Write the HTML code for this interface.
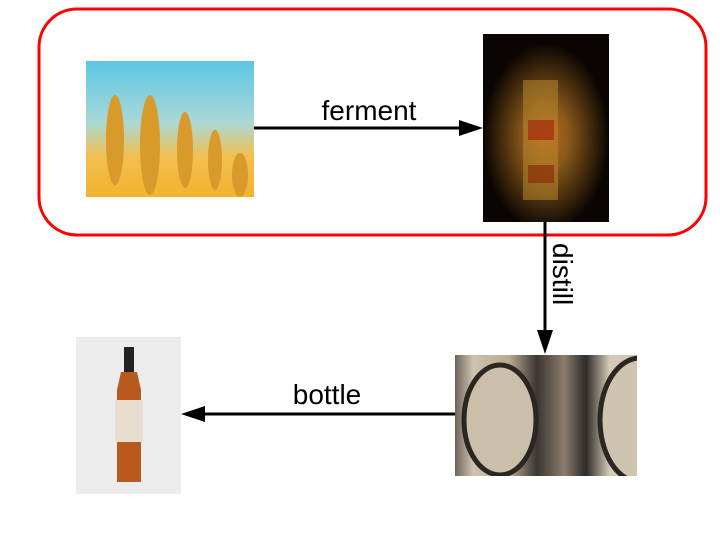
<!DOCTYPE html>
<html><head><meta charset="utf-8"><style>
html,body{margin:0;padding:0;background:#fff;width:720px;height:540px;overflow:hidden}
</style></head><body>
<svg width="720" height="540" viewBox="0 0 720 540" xmlns="http://www.w3.org/2000/svg" font-family="Liberation Sans, sans-serif">
<defs>
<linearGradient id="sky" x1="0" y1="0" x2="0" y2="1"><stop offset="0" stop-color="#5cc6e6"/><stop offset="0.45" stop-color="#a9d8d6"/><stop offset="0.7" stop-color="#f1c050"/><stop offset="1" stop-color="#f3b22e"/></linearGradient>
<radialGradient id="beer" cx="0.5" cy="0.55" r="0.5"><stop offset="0" stop-color="#c2651a"/><stop offset="0.35" stop-color="#8a5a1a"/><stop offset="1" stop-color="#0a0502"/></radialGradient>
<linearGradient id="barrel" x1="0" y1="0" x2="1" y2="0"><stop offset="0" stop-color="#6d645a"/><stop offset="0.1" stop-color="#cfc3b0"/><stop offset="0.3" stop-color="#b8a98f"/><stop offset="0.45" stop-color="#3b3532"/><stop offset="0.6" stop-color="#8b7d6e"/><stop offset="0.72" stop-color="#2d2a28"/><stop offset="0.85" stop-color="#d5cbb8"/><stop offset="1" stop-color="#cfc5b3"/></linearGradient>
<clipPath id="bc"><rect x="455" y="355" width="182" height="121"/></clipPath>
</defs>
<rect x="39" y="9" width="667" height="226" rx="38" fill="none" stroke="#f00" stroke-width="3"/>
<rect x="86" y="61" width="168" height="136" fill="url(#sky)"/>
<g fill="#d89a2a">
<ellipse cx="115" cy="140" rx="9" ry="45"/><ellipse cx="150" cy="145" rx="10" ry="50"/><ellipse cx="185" cy="150" rx="8" ry="38"/><ellipse cx="215" cy="160" rx="7" ry="30"/><ellipse cx="240" cy="175" rx="8" ry="22"/>
</g>
<rect x="483" y="34" width="126" height="188" fill="url(#beer)"/>
<rect x="523" y="80" width="35" height="120" fill="#b8862e" opacity="0.55"/>
<rect x="528" y="120" width="26" height="20" fill="#a4330e" opacity="0.8"/>
<rect x="528" y="165" width="26" height="18" fill="#8a2e0c" opacity="0.7"/>
<line x1="254" y1="128" x2="462" y2="128" stroke="#000" stroke-width="3"/>
<polygon points="483,128 459,120 459,136" fill="#000"/>
<text x="369" y="120" font-size="28" text-anchor="middle">ferment</text>
<line x1="545" y1="222" x2="545" y2="334" stroke="#000" stroke-width="3"/>
<polygon points="545,354 537,330 553,330" fill="#000"/>
<text transform="translate(553,243) rotate(90)" font-size="28">distill</text>
<g clip-path="url(#bc)">
<rect x="455" y="355" width="182" height="121" fill="url(#barrel)"/>
<ellipse cx="500" cy="420" rx="36" ry="55" fill="#cbbfa9" stroke="#2a2622" stroke-width="5"/>
<ellipse cx="640" cy="420" rx="40" ry="62" fill="#cfc4b0" stroke="#2a2622" stroke-width="5"/>
</g>
<line x1="455" y1="414" x2="202" y2="414" stroke="#000" stroke-width="3"/>
<polygon points="181,414 205,406 205,422" fill="#000"/>
<text x="327" y="404" font-size="28" text-anchor="middle">bottle</text>
<rect x="76" y="337" width="105" height="157" fill="#ececec"/>
<rect x="124" y="347" width="10" height="25" fill="#222"/>
<path d="M121,372 h16 l4,18 v92 h-24 v-92 z" fill="#b85a1e"/>
<rect x="115" y="400" width="28" height="42" fill="#e8ded0"/>
</svg>
</body></html>
